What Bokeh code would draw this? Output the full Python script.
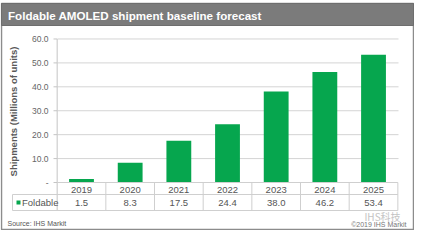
import math
from bokeh.plotting import figure
from bokeh.models import Range1d
from bokeh.core.properties import value
from bokeh.embed import file_html
from bokeh.resources import INLINE

# ---- data ----
title_text = "Foldable AMOLED shipment baseline forecast"
y_axis_title = "Shipments (Millions of units)"
years = ["2019", "2020", "2021", "2022", "2023", "2024", "2025"]
foldable = [1.5, 8.3, 17.5, 24.4, 38.0, 46.2, 53.4]
series_name = "Foldable"
y_ticks = [0, 10, 20, 30, 40, 50, 60]
y_tick_labels = ["-", "10.0", "20.0", "30.0", "40.0", "50.0", "60.0"]
source_note = "Source: IHS Markit"
copyright_note = "\u00a92019 IHS Markit"
watermark = "IHS科技"

# ---- layout helpers (page pixel -> data coordinates) ----
W, H = 414, 230
X0, DX = 89.0, 48.67   # page x of first category centre, px per category
Y0, DY = 190.0, 2.392  # page y of value 0, px per unit


def dx(px):
    return (px - X0) / DX


def dy(py):
    return (Y0 - py) / DY


FONT = value("Liberation Sans")
GREEN = "#06a64e"
n = len(years)
xs = list(range(n))

p = figure(width=W, height=H,
           x_range=Range1d(dx(8), dx(8 + W)), y_range=Range1d(dy(8 + H), dy(8)),
           output_backend="svg", toolbar_location=None, min_border=0,
           x_axis_location=None, y_axis_location=None,
           background_fill_color="white", border_fill_color="white")
p.grid.visible = False
p.outline_line_color = None

# outer panel and title bar
p.quad(left=[dx(9)], right=[dx(421)], top=[dy(11)], bottom=[dy(237)],
       fill_color="white", line_color="#8c8c8c", line_width=1.5)
p.quad(left=[dx(9)], right=[dx(421)], top=[dy(11)], bottom=[dy(33)],
       fill_color="#7b7b7b", line_color="#6e6e6e", line_width=1)
p.text(x=[dx(15.5)], y=[dy(22.5)], text=[title_text], text_color="white",
       text_font=FONT, text_font_style="bold", text_font_size="11.6px",
       text_align="left", text_baseline="middle")

# gridlines
grid_ticks = [t for t in y_ticks if t > 0]
p.segment(x0=[dx(65)] * len(grid_ticks), x1=[dx(406)] * len(grid_ticks),
          y0=grid_ticks, y1=grid_ticks, line_color="#d4d4d4", line_width=1)

# y axis line and tick marks
left_edge = -0.5
p.segment(x0=[left_edge], x1=[left_edge], y0=[max(y_ticks)], y1=[dy(218)],
          line_color="#c4c4c4", line_width=1)
p.segment(x0=[dx(61)] * len(y_ticks), x1=[left_edge] * len(y_ticks),
          y0=y_ticks, y1=y_ticks, line_color="#c4c4c4", line_width=1)

# bars
p.vbar(x=xs, top=foldable, bottom=0, width=0.51, fill_color=GREEN, line_color=None)

# data table lines
right_edge = n - 0.5
p.segment(x0=[left_edge, dx(20), dx(20)], x1=[right_edge] * 3,
          y0=[0, dy(202), dy(218)], y1=[0, dy(202), dy(218)],
          line_color="#cfcfcf", line_width=1)
seps = [i + 0.5 for i in xs]
p.segment(x0=seps, x1=seps, y0=[0] * n, y1=[dy(218)] * n,
          line_color="#cfcfcf", line_width=1)
p.segment(x0=[dx(20)], x1=[dx(20)], y0=[dy(202)], y1=[dy(218)],
          line_color="#cfcfcf", line_width=1)

# table text
p.text(x=xs, y=[dy(197)] * n, text=years, text_color="#555555", text_font=FONT,
       text_font_size="9.5px", text_align="center", text_baseline="middle")
p.text(x=xs, y=[dy(210)] * n, text=["%.1f" % v for v in foldable],
       text_color="#555555", text_font=FONT, text_font_size="9.5px",
       text_align="center", text_baseline="middle")
p.scatter(x=[dx(26)], y=[dy(210)], marker="square", size=4,
          fill_color=GREEN, line_color=None)
p.text(x=[dx(29.5)], y=[dy(210)], text=[series_name], text_color="#555555",
       text_font=FONT, text_font_size="9.5px", text_align="left",
       text_baseline="middle")

# y tick labels and axis title
p.text(x=[dx(56)] * len(y_ticks), y=y_ticks, text=y_tick_labels,
       text_color="#666666", text_font=FONT, text_font_size="8.5px",
       text_align="right", text_baseline="middle")
p.text(x=[dx(21)], y=[dy(119)], text=[y_axis_title], angle=math.pi / 2,
       text_color="#595959", text_font=FONT, text_font_style="bold",
       text_font_size="9.5px", text_align="center", text_baseline="middle")

# footnotes and watermark
p.text(x=[dx(15)], y=[dy(231)], text=[source_note], text_color="#555555",
       text_font=FONT, text_font_size="7px", text_align="left",
       text_baseline="middle")
p.text(x=[dx(414)], y=[dy(232)], text=[copyright_note], text_color="#777777",
       text_font=FONT, text_font_size="7px", text_align="right",
       text_baseline="middle")
p.text(x=[dx(390)], y=[dy(224)], text=[watermark], text_color="#c4c4c4",
       text_font=value("Noto Sans CJK SC"), text_font_size="10px",
       text_align="center", text_baseline="middle")

open("out.html", "w").write(file_html(p, INLINE))
